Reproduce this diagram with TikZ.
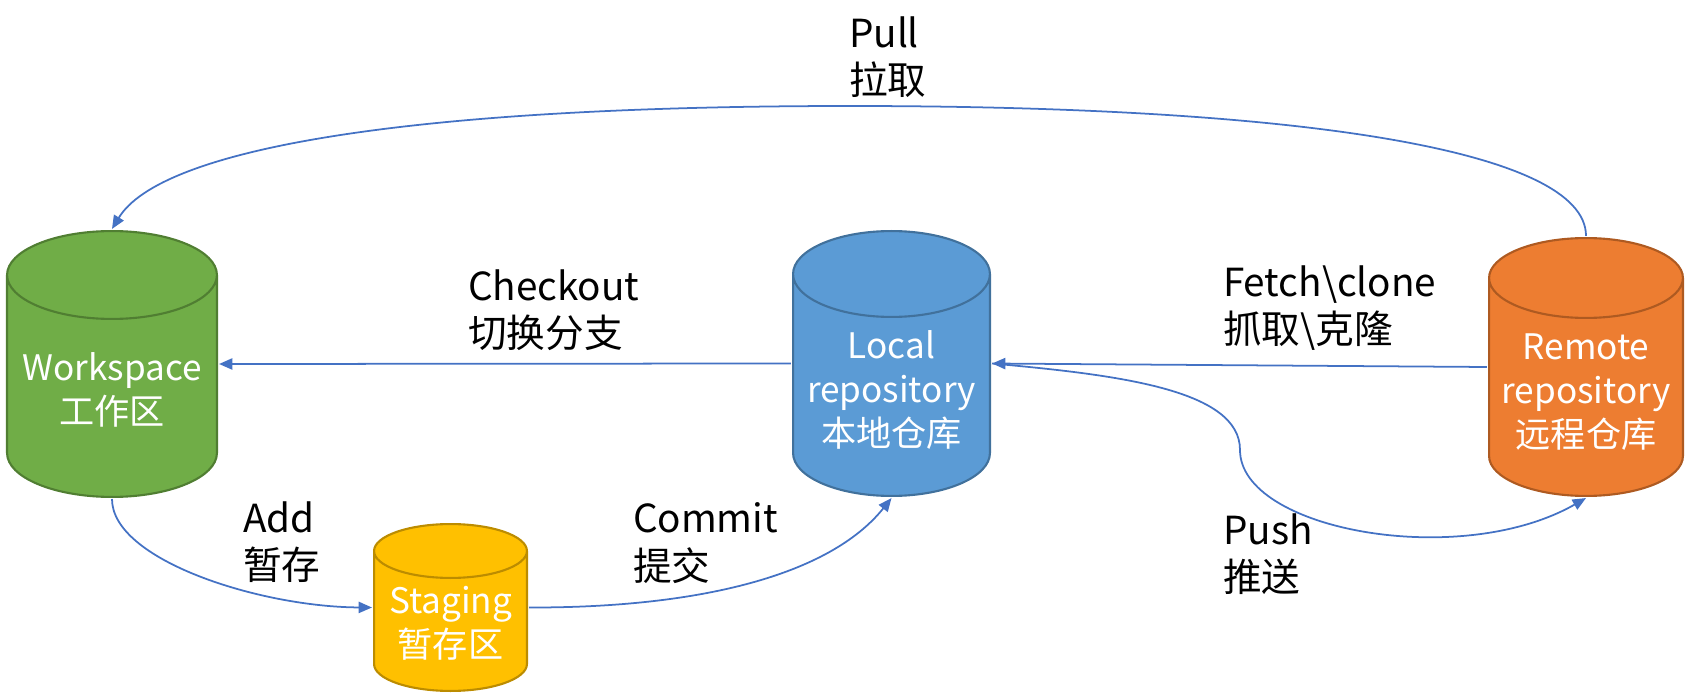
\documentclass[tikz,border=0pt]{standalone}
\usepackage{fontspec}
\setmainfont{Noto Sans CJK SC}
\usetikzlibrary{positioning, calc, arrows.meta}
\definecolor{wsgreen}{HTML}{70AD47}
\definecolor{wsgreenline}{HTML}{507E32}
\definecolor{locblue}{HTML}{5B9BD5}
\definecolor{locblueline}{HTML}{41719C}
\definecolor{remorange}{HTML}{ED7D31}
\definecolor{remorangeline}{HTML}{AE5A21}
\definecolor{stggold}{HTML}{FFC000}
\definecolor{stggoldline}{HTML}{BC8C00}
\definecolor{flowblue}{HTML}{4472C4}

\begin{document}
\begin{tikzpicture}[line width=0.6pt,
        repo/.style n args={3}{rectangle, inner sep=0pt,
            path picture={
                \filldraw[fill=#1, draw=#2, line width=0.6pt]
                    let \p1=(path picture bounding box.north west),
                        \p2=(path picture bounding box.south east),
                        \n1={(\x2-\x1)/2-0.3pt} in
                    (\x1+0.3pt,\y1-#3) -- (\x1+0.3pt,\y2+#3)
                    arc[start angle=180, end angle=360, x radius=\n1, y radius=#3-0.3pt]
                    -- (\x2-0.3pt,\y1-#3)
                    arc[start angle=0, end angle=180, x radius=\n1, y radius=#3-0.3pt] -- cycle
                    (\x1+0.3pt,\y1-#3) arc[start angle=180, end angle=360, x radius=\n1, y radius=#3-0.3pt];
            }},
        repotext/.style = {text=white, align=center, inner sep=0pt, font=\fontsize{10}{12.5}\selectfont},
        lbl/.style = {anchor=west, align=left, inner sep=0pt, font=\fontsize{11}{13.5}\selectfont},
        flow/.style = {draw=flowblue, line width=0.5pt, -{Triangle[length=3.8pt, width=3.2pt]}}]
        \useasboundingbox (0,0) rectangle (16.91,-6.93);
        % repositories
        \node[repo={wsgreen}{wsgreenline}{0.45cm}, minimum width=2.12cm, minimum height=2.68cm,
            label={[repotext, yshift=-0.26cm]center:{Workspace\\工作区}}] (ws) at (1.12,-3.64) {};
        \node[repo={locblue}{locblueline}{0.44cm}, minimum width=1.99cm, minimum height=2.67cm,
            label={[repotext, yshift=-0.265cm]center:{Local\\repository\\本地仓库}}] (loc) at (8.915,-3.635) {};
        \node[repo={remorange}{remorangeline}{0.41cm}, minimum width=1.96cm, minimum height=2.60cm,
            label={[repotext, yshift=-0.25cm]center:{Remote\\repository\\远程仓库}}] (rem) at (15.86,-3.67) {};
        \node[repo={stggold}{stggoldline}{0.28cm}, minimum width=1.55cm, minimum height=1.69cm,
            label={[repotext, yshift=-0.155cm]center:{Staging\\暂存区}}] (stg) at (4.505,-6.075) {};
        % labels
        \node[lbl] (pull) at (8.48,-0.57) {Pull\\拉取};
        \node[lbl] (checkout) at (4.67,-3.10) {Checkout\\切换分支};
        \node[lbl] (fetch) at (12.22,-3.08) {Fetch\textbackslash clone\\抓取\textbackslash 克隆};
        \node[lbl] (add) at (2.42,-5.42) {Add\\暂存};
        \node[lbl] (commit) at (6.32,-5.43) {Commit\\提交};
        \node[lbl] (push) at (12.22,-5.54) {Push\\推送};
        % flows
        \draw[flow] (loc.west) -- (ws.east);
        \draw[flow] (rem.west) -- (loc.east);
        \draw[flow] (rem.north) .. controls (15.86,-1.5) and (13.0,-1.06) .. (8.5,-1.06)
            .. controls (4.0,-1.06) and (1.6,-1.5) .. (ws.north);
        \draw[flow] (ws.south) .. controls (1.12,-5.6) and (2.6,-6.07) .. (stg.west);
        \draw[flow] (stg.east) .. controls (7.0,-6.08) and (8.3,-5.75) .. (loc.south);
        \draw[flow] (loc.east) .. controls (11.2,-3.75) and (12.4,-3.9) .. (12.4,-4.5)
            .. controls (12.4,-5.3) and (14.6,-5.7) .. (rem.south);
\end{tikzpicture}
\end{document}
